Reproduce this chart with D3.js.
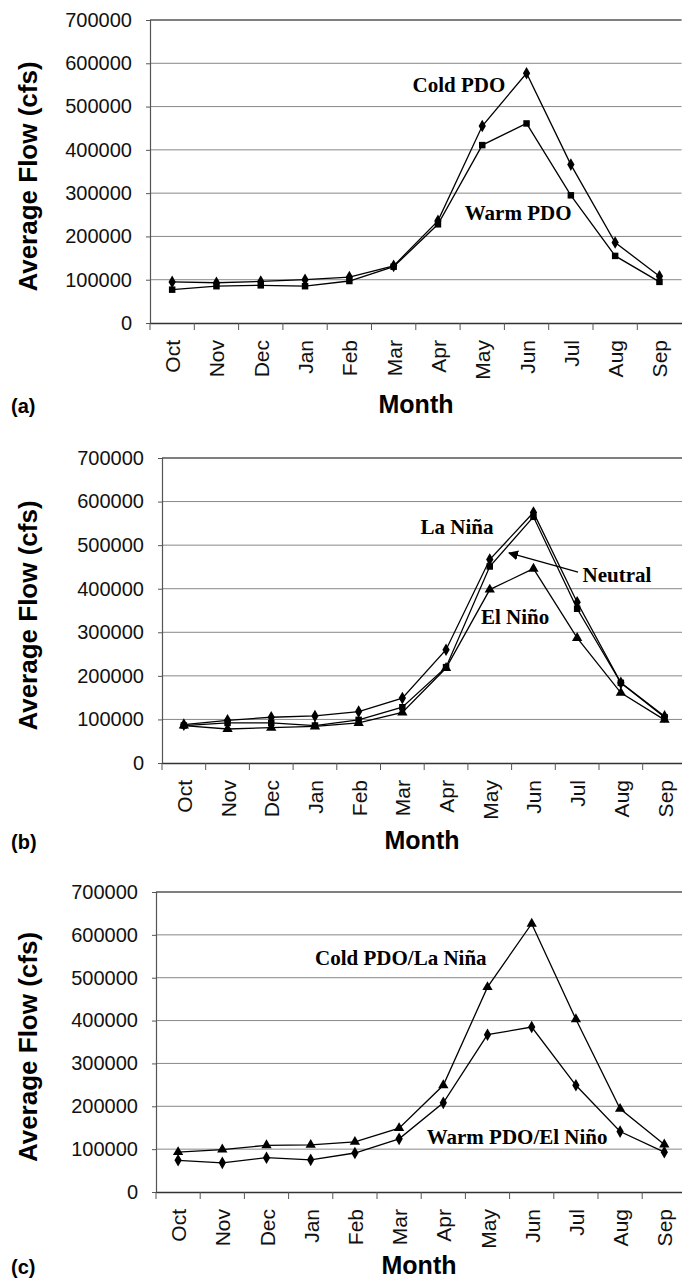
<!DOCTYPE html>
<html>
<head>
<meta charset="utf-8">
<script src="https://cdn.jsdelivr.net/npm/d3@7"></script>
<style>
  body { margin: 0; background: white; }
  svg { display: block; }
  .tick-label { font-family: Arial, "Liberation Sans", sans-serif; }
  .note { font-family: "Times New Roman", "Liberation Serif", serif; font-weight: bold; }
</style>
</head>
<body>
<svg id="chart" width="682" height="1280"></svg>
<script>
const MONTHS = ["Oct", "Nov", "Dec", "Jan", "Feb", "Mar", "Apr", "May", "Jun", "Jul", "Aug", "Sep"];
const Y_TICKS = [0, 100000, 200000, 300000, 400000, 500000, 600000, 700000];

// (a) PDO phases
const coldPDO = [95000, 93000, 96000, 100000, 106000, 132000, 236000, 455000, 577000, 366000, 186000, 108000];
const warmPDO = [77000, 85000, 87000, 85000, 97000, 130000, 228000, 411000, 461000, 295000, 155000, 95000];

// (b) ENSO phases
const laNina  = [88000, 98000, 105000, 108000, 118000, 149000, 260000, 467000, 575000, 369000, 184000, 107000];
const neutral = [86000, 92000, 92000, 86000, 99000, 128000, 220000, 451000, 565000, 354000, 184000, 105000];
const elNino  = [86000, 78000, 81000, 84000, 92000, 116000, 218000, 398000, 446000, 287000, 161000, 99000];

// (c) combined
const coldLaNina = [93000, 99000, 109000, 110000, 117000, 149000, 249000, 478000, 626000, 403000, 194000, 111000];
const warmElNino = [74000, 68000, 80000, 75000, 91000, 124000, 208000, 367000, 385000, 249000, 141000, 93000];

var svg = d3.select("#chart");

var panels = [
  {
    tag: "(a)", left: 150, top: 20, bottom: 323, band: 44.3, tagY: 413,
    series: [{values: coldPDO, shape: d3.symbolDiamond}, {values: warmPDO, shape: d3.symbolSquare}],
    notes: [{text: "Cold PDO", at: 6.475, v: 550000}, {text: "Warm PDO", at: 7.81, v: 254000}]
  },
  {
    tag: "(b)", left: 162, top: 458, bottom: 763, band: 43.7, tagY: 849,
    series: [{values: laNina, shape: d3.symbolDiamond}, {values: neutral, shape: d3.symbolSquare},
             {values: elNino, shape: d3.symbolTriangle}],
    notes: [{text: "La Niña", at: 6.25, v: 541000}, {text: "Neutral", at: 9.91, v: 431000},
            {text: "El Niño", at: 7.58, v: 335000}],
    arrow: {from: [9.02, 438000], to: [7.44, 482000]}
  },
  {
    tag: "(c)", left: 156, top: 892, bottom: 1192, band: 44.2, tagY: 1274,
    series: [{values: coldLaNina, shape: d3.symbolTriangle}, {values: warmElNino, shape: d3.symbolDiamond}],
    notes: [{text: "Cold PDO/La Niña", at: 5.04, v: 546000}, {text: "Warm PDO/El Niño", at: 7.67, v: 128000}]
  }
];

svg.append("defs").append("marker")
  .attr("id", "head")
  .attr("viewBox", "0 0 10 10")
  .attr("refX", 9).attr("refY", 5)
  .attr("markerWidth", 10).attr("markerHeight", 10)
  .attr("markerUnits", "userSpaceOnUse")
  .attr("orient", "auto")
  .append("path")
  .attr("d", "M0,0 L10,5 L0,10 z")
  .attr("fill", "black");

panels.forEach(function(p) {
  var right = p.left + p.band * MONTHS.length;
  var x = d3.scaleBand().domain(MONTHS).range([p.left, right]);
  var y = d3.scaleLinear().domain([0, 700000]).range([p.bottom, p.top]);
  var xc = function(i) { return x(MONTHS[0]) + x.bandwidth() / 2 + i * x.step(); };

  var g = svg.append("g");

  // gridlines
  g.append("g").selectAll("line")
    .data(Y_TICKS.slice(1))
    .enter()
    .append("line")
    .attr("x1", p.left).attr("x2", right)
    .attr("y1", function(d) { return y(d); })
    .attr("y2", function(d) { return y(d); })
    .attr("stroke", function(d) { return d == 700000 ? "#555" : "#888"; })
    .attr("stroke-width", function(d) { return d == 700000 ? 1.4 : 1; });

  // y axis
  var yAxis = g.append("g")
    .attr("transform", "translate(" + p.left + ",0)")
    .call(d3.axisLeft(y).tickValues(Y_TICKS).tickFormat(d3.format("d")).tickSize(4).tickPadding(14));
  yAxis.select(".domain").attr("stroke", "#555").attr("stroke-width", 1.2);
  yAxis.selectAll(".tick line").attr("stroke", "#555");
  yAxis.selectAll("text")
    .attr("class", "tick-label")
    .style("font-size", "20px")
    .attr("fill", "#111");

  // x axis (ticks sit between months)
  var xAxis = g.append("g")
    .attr("transform", "translate(0," + p.bottom + ")")
    .call(d3.axisBottom(x).tickSize(0).tickPadding(0));
  xAxis.select(".domain").attr("stroke", "#333").attr("stroke-width", 1.4);
  xAxis.selectAll(".tick line").remove();
  xAxis.selectAll(".tick").append("line")
    .attr("x1", -x.step() / 2).attr("x2", -x.step() / 2)
    .attr("y1", 0).attr("y2", 7)
    .attr("stroke", "#555");
  xAxis.selectAll("text")
    .attr("class", "tick-label")
    .style("font-size", "21px")
    .attr("fill", "#111")
    .attr("text-anchor", "end")
    .attr("dy", null)
    .attr("y", 0)
    .attr("transform", "translate(8,17) rotate(-90)");

  // lines and markers
  var line = d3.line()
    .x(function(d, i) { return x(MONTHS[i]) + x.bandwidth() / 2; })
    .y(function(d) { return y(d); });

  p.series.forEach(function(s) {
    g.append("path")
      .datum(s.values)
      .attr("d", line)
      .attr("fill", "none")
      .attr("stroke", "black")
      .attr("stroke-width", 1.3);

    g.append("g").selectAll("path")
      .data(s.values)
      .enter()
      .append("path")
      .attr("d", d3.symbol().type(s.shape).size(s.shape == d3.symbolSquare ? 42 : 46))
      .attr("transform", function(d, i) {
        return "translate(" + (x(MONTHS[i]) + x.bandwidth() / 2) + "," + y(d) + ")";
      })
      .attr("fill", "black");
  });

  // annotations
  g.append("g").selectAll("text")
    .data(p.notes)
    .enter()
    .append("text")
    .attr("class", "note")
    .attr("x", function(d) { return xc(d.at); })
    .attr("y", function(d) { return y(d.v); })
    .attr("text-anchor", "middle")
    .attr("dominant-baseline", "central")
    .style("font-size", "21px")
    .text(function(d) { return d.text; });

  if (p.arrow) {
    g.append("line")
      .attr("x1", xc(p.arrow.from[0])).attr("y1", y(p.arrow.from[1]))
      .attr("x2", xc(p.arrow.to[0])).attr("y2", y(p.arrow.to[1]))
      .attr("stroke", "black")
      .attr("stroke-width", 1.3)
      .attr("marker-end", "url(#head)");
  }

  // titles
  svg.append("text")
    .attr("transform", "translate(28," + ((p.top + p.bottom) / 2 + 5) + ") rotate(-90)")
    .attr("text-anchor", "middle")
    .attr("dominant-baseline", "central")
    .style("font-family", "Arial, 'Liberation Sans', sans-serif")
    .style("font-weight", "bold")
    .style("font-size", "26px")
    .text("Average Flow (cfs)");

  svg.append("text")
    .attr("x", (p.left + 682) / 2)
    .attr("y", p.tagY)
    .attr("text-anchor", "middle")
    .style("font-family", "Arial, 'Liberation Sans', sans-serif")
    .style("font-weight", "bold")
    .style("font-size", "25px")
    .text("Month");

  svg.append("text")
    .attr("x", 11)
    .attr("y", p.tagY)
    .style("font-family", "Arial, 'Liberation Sans', sans-serif")
    .style("font-weight", "bold")
    .style("font-size", "20px")
    .text(p.tag);
});
</script>
</body>
</html>
